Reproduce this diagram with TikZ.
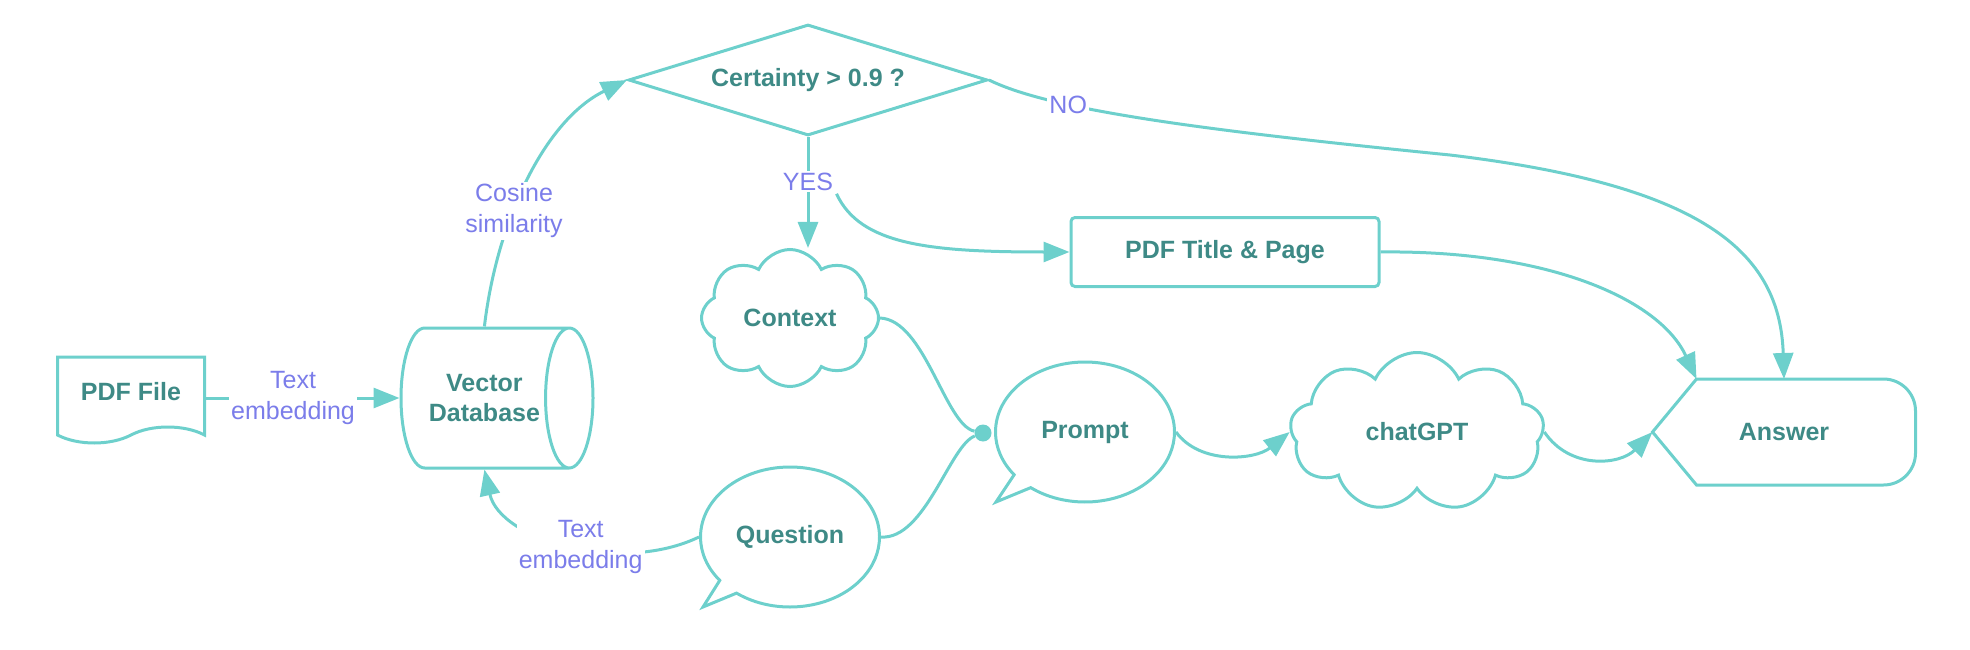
\documentclass[tikz,border=0pt]{standalone}
\usepackage{fontspec}
\setmainfont{Liberation Sans}
\usetikzlibrary{arrows.meta,shapes.geometric,shapes.symbols,shapes.callouts}
\definecolor{flowline}{HTML}{6DD0CC}
\definecolor{flowtext}{HTML}{3E8A86}
\definecolor{flowlabel}{HTML}{7B7DEA}
\begin{document}
\begin{tikzpicture}[x=1pt,y=-1pt,
    box/.style={draw=flowline, line width=3pt, text=flowtext, font=\fontsize{25}{30}\selectfont\bfseries, align=center, inner sep=0pt},
    lbl/.style={text=flowlabel, fill=white, font=\fontsize{25}{31}\selectfont, align=center, inner sep=2pt},
    flow/.style={draw=flowline, line width=3pt, -{Triangle[length=26pt,width=20pt]}},
    link/.style={draw=flowline, line width=3pt}]
    \useasboundingbox (0,0) rectangle (1970,650);
    \node[box, tape, tape bend top=none, tape bend bottom=in and out, tape bend height=16pt, minimum width=147pt, minimum height=86pt] (pdf) at (131,392) {PDF File};
    \node[box, cylinder, shape aspect=1.0, minimum width=140pt, minimum height=192pt, anchor=shape center] (vdb) at (497,398) {Vector\\Database};
    \node[box, diamond, aspect=3.2, minimum width=359pt, minimum height=111pt] (check) at (808,80) {Certainty > 0.9 ?};
    \node[box, cloud, cloud puffs=8, cloud puff arc=130, cloud ignores aspect, minimum width=177pt, minimum height=137pt] (context) at (790,318) {Context};
    \node[box, rounded corners=4pt, minimum width=308pt, minimum height=69pt] (title) at (1225,252) {PDF Title \& Page};
    \node[box, ellipse callout, callout absolute pointer={(996,502)}, minimum width=179pt, minimum height=140pt] (prompt) at (1085,432) {Prompt};
    \node[box, ellipse callout, callout absolute pointer={(703,607)}, minimum width=179pt, minimum height=140pt] (question) at (790,537) {Question};
    \node[box, cloud, cloud puffs=9, cloud puff arc=130, cloud ignores aspect, minimum width=254pt, minimum height=159pt] (gpt) at (1417,432) {chatGPT};
    \node[box, draw=none, minimum width=260pt, minimum height=103pt] (answer) at (1784,432) {Answer};
    \node[circle, fill=flowline, inner sep=0pt, minimum size=17pt] (join) at (983,433) {};
    \draw[link] (answer.west) -- ([xshift=44pt]answer.north west) -- ([xshift=-32pt]answer.north east) arc[start angle=90, end angle=0, radius=32pt] -- ([yshift=32pt]answer.south east) arc[start angle=0, end angle=-90, radius=32pt] -- ([xshift=44pt]answer.south west) -- cycle;
    \draw[flow] (pdf.east |- vdb.west) -- node[lbl, pos=0.45]{Text\\embedding} (vdb.west);
    \draw[flow] (vdb.north) .. controls (497,220) and (545,120) .. node[lbl, pos=0.38]{Cosine\\similarity} (check.west);
    \draw[flow] (check.south) -- node[lbl, pos=0.4] (yes) {YES} (check.south |- context.north);
    \draw[flow] (yes.south east) .. controls (860,245) and (930,252) .. (title.west);
    \draw[flow] (check.east) .. controls (1050,110) and (1200,130) .. node[lbl, pos=0.3]{NO} (1450,155) .. controls (1700,185) and (1780,250) .. (answer.north);
    \draw[flow] (title.east) .. controls (1550,250) and (1660,300) .. ([xshift=44pt]answer.north west);
    \draw[flow] (prompt.east) .. controls (1200,465) and (1255,460) .. (gpt.west);
    \draw[flow] (gpt.east) .. controls (1570,470) and (1620,465) .. (answer.west);
    \draw[link] (context.east) .. controls (925,320) and (945,425) .. (join);
    \draw[link] (question.east) .. controls (925,540) and (950,445) .. (join);
    \draw[flow] (question.west) .. controls (620,575) and (500,540) .. node[lbl, pos=0.45]{Text\\embedding} (vdb.south);
\end{tikzpicture}
\end{document}
